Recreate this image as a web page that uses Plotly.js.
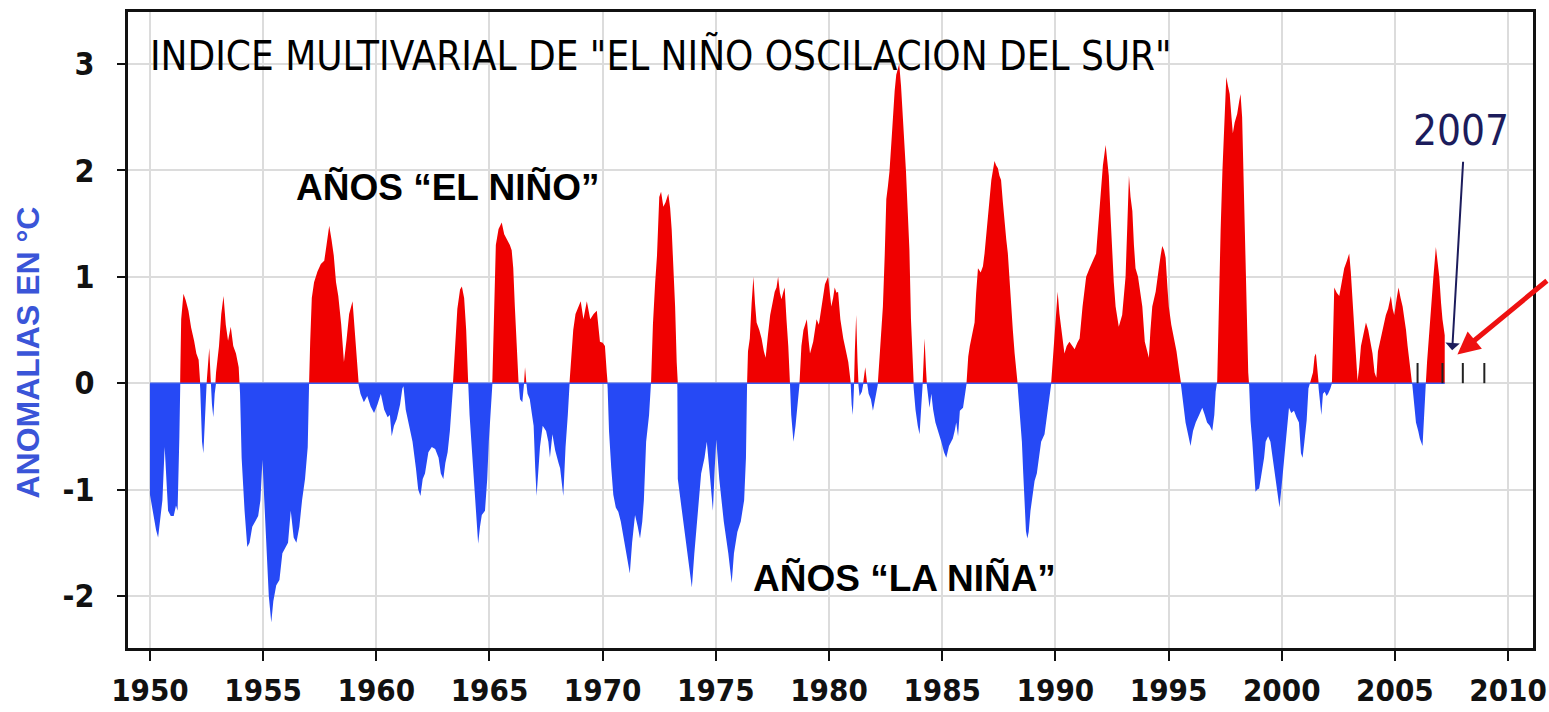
<!DOCTYPE html>
<html>
<head>
<meta charset="utf-8">
<script src="https://cdn.plot.ly/plotly-3.0.1.min.js"></script>
<style>
html,body{margin:0;padding:0;background:#fff;}
#chart{width:1549px;height:712px;}
</style>
</head>
<body>
<div id="chart"></div>
<script>
// Multivariate ENSO Index (decimal year, index value)
const years = [
1950.00,1950.08,1950.17,1950.27,1950.36,1950.45,1950.55,1950.65,1950.72,1950.80,1950.92,1951.05,1951.15,1951.22,1951.30,
1951.34,1951.38,1951.48,1951.58,1951.70,1951.82,1951.95,1952.05,1952.15,1952.22,
1952.30,1952.36,1952.44,1952.52,1952.62,1952.68,1952.74,1952.80,1952.86,1952.92,
1953.05,1953.15,1953.25,1953.35,1953.45,1953.57,1953.68,1953.80,1953.92,1953.98,
1954.05,1954.18,1954.30,1954.40,1954.52,1954.65,1954.78,1954.88,1954.97,1955.05,1955.15,1955.25,1955.36,1955.45,1955.58,1955.72,1955.85,1955.97,1956.10,1956.22,1956.35,1956.47,1956.60,1956.72,1956.85,1956.97,1957.03,
1957.08,1957.15,1957.25,1957.40,1957.55,1957.70,1957.80,1957.92,1958.02,1958.12,1958.22,1958.32,1958.45,1958.57,1958.68,1958.80,1958.95,1959.05,1959.15,1959.22,
1959.30,1959.45,1959.60,1959.75,1959.90,1960.05,1960.20,1960.35,1960.50,1960.60,1960.68,1960.78,1960.90,1961.05,1961.15,1961.20,
1961.30,1961.45,1961.60,1961.75,1961.85,1961.95,1962.05,1962.15,1962.30,1962.45,1962.60,1962.75,1962.85,1962.96,1963.05,1963.15,1963.25,1963.35,1963.40,
1963.48,1963.58,1963.70,1963.78,1963.88,1963.97,1964.05,
1964.12,1964.22,1964.36,1964.50,1964.58,1964.66,1964.80,1964.90,1964.97,1965.08,1965.13,
1965.18,1965.28,1965.40,1965.54,1965.65,1965.76,1965.90,1965.98,1966.05,1966.12,1966.20,1966.28,
1966.35,1966.45,1966.52,1966.57,1966.62,
1966.68,1966.78,1966.88,1966.95,1967.02,1967.08,1967.15,1967.23,1967.35,1967.50,1967.60,1967.67,1967.78,1967.90,1968.05,1968.12,1968.26,1968.36,1968.46,1968.54,
1968.62,1968.70,1968.80,1968.93,1969.03,1969.15,1969.30,1969.45,1969.60,1969.74,1969.88,1970.00,1970.10,1970.18,1970.22,
1970.28,1970.38,1970.47,1970.58,1970.69,1970.80,1970.92,1971.05,1971.20,1971.30,1971.43,1971.55,1971.65,1971.75,1971.82,1971.92,1972.05,1972.14,
1972.22,1972.32,1972.40,1972.50,1972.58,1972.68,1972.78,1972.90,1972.98,1973.05,1973.12,1973.20,1973.27,1973.30,
1973.32,1973.50,1973.70,1973.85,1973.94,1974.05,1974.20,1974.35,1974.50,1974.60,1974.75,1974.87,1974.95,1975.02,1975.15,1975.35,1975.55,1975.70,1975.80,1975.95,1976.10,1976.25,1976.33,1976.38,
1976.42,1976.50,1976.58,1976.66,1976.73,1976.80,1976.92,1977.02,1977.12,1977.20,1977.30,1977.40,1977.50,1977.60,1977.68,1977.75,1977.83,1977.90,1977.97,1978.04,1978.12,1978.20,1978.27,
1978.33,1978.43,1978.52,1978.62,1978.70,
1978.78,1978.87,1978.95,1979.02,1979.10,1979.16,1979.30,1979.45,1979.55,1979.67,1979.75,1979.82,1979.96,1980.05,1980.10,1980.18,1980.25,1980.33,1980.40,1980.50,1980.63,1980.75,1980.85,1980.95,
1981.00,1981.05,1981.10,1981.14,1981.20,1981.26,1981.30,1981.35,1981.45,1981.52,1981.60,1981.67,1981.75,1981.85,1981.94,1982.05,1982.15,
1982.25,1982.38,1982.46,1982.53,1982.60,1982.67,1982.75,1982.82,1982.90,1982.97,1983.04,1983.10,1983.18,1983.26,1983.33,1983.40,1983.48,1983.55,1983.62,1983.70,1983.74,
1983.82,1983.92,1984.00,1984.08,1984.14,1984.18,1984.22,1984.28,1984.32,
1984.38,1984.44,1984.52,1984.60,1984.70,1984.82,1984.96,1985.08,1985.18,1985.30,1985.40,1985.47,1985.55,1985.62,1985.70,1985.78,1985.92,1986.02,1986.08,
1986.15,1986.22,1986.35,1986.43,1986.50,1986.58,1986.70,1986.80,1986.87,1986.95,1987.02,1987.10,1987.17,1987.24,1987.31,1987.38,1987.46,1987.53,1987.60,1987.68,1987.75,1987.83,1987.90,1987.97,1988.05,1988.12,1988.20,1988.28,1988.33,
1988.40,1988.47,1988.52,1988.58,1988.64,1988.70,1988.76,1988.82,1988.90,1988.96,1989.03,1989.08,1989.18,1989.25,1989.37,1989.52,1989.60,1989.67,1989.75,1989.82,
1989.92,1990.00,1990.10,1990.18,1990.26,1990.40,1990.50,1990.62,1990.75,1990.85,1990.97,1991.07,1991.20,1991.36,1991.51,1991.65,1991.80,1991.90,1992.00,1992.10,1992.22,1992.30,1992.36,1992.43,1992.50,1992.58,1992.66,1992.80,1992.95,
1993.10,1993.18,1993.25,1993.32,1993.40,1993.47,1993.54,1993.65,1993.74,1993.84,1993.95,1994.05,1994.13,1994.20,1994.28,1994.43,1994.50,1994.57,1994.65,1994.72,1994.80,1994.87,1994.95,1995.01,1995.12,1995.24,1995.35,1995.46,1995.55,
1995.65,1995.75,1995.88,1995.97,1996.08,1996.20,1996.35,1996.49,1996.60,1996.70,1996.82,1996.93,1997.02,1997.08,1997.15,
1997.20,1997.30,1997.38,1997.44,1997.50,1997.55,1997.62,1997.70,1997.78,1997.84,1997.92,1998.03,1998.12,1998.18,1998.25,1998.33,1998.40,1998.45,1998.52,1998.56,
1998.62,1998.70,1998.78,1998.84,1998.92,1999.00,1999.07,1999.14,1999.22,1999.29,1999.40,1999.50,1999.60,1999.73,1999.82,1999.90,1999.98,2000.10,2000.20,2000.32,2000.42,2000.54,2000.65,2000.76,2000.85,2000.92,2001.00,2001.10,2001.18,
2001.38,2001.45,2001.51,2001.58,2001.63,2001.70,2001.75,2001.82,2001.90,2001.98,2002.05,2002.15,2002.22,
2002.27,2002.32,2002.43,2002.54,2002.65,2002.76,2002.88,2002.98,2003.05,2003.13,2003.20,2003.28,2003.35,
2003.42,2003.50,2003.60,2003.72,2003.82,2003.92,2004.01,2004.10,2004.18,2004.25,2004.38,2004.50,2004.60,2004.70,2004.82,2004.90,2004.97,2005.08,2005.16,2005.25,2005.34,2005.42,2005.49,2005.56,2005.63,2005.72,2005.77,
2005.85,2005.93,2006.03,2006.10,2006.22,2006.30,2006.36,
2006.42,2006.50,2006.59,2006.70,2006.81,2006.90,2006.96,2007.04,2007.10,2007.20
];
const mei = [
-1.05,-1.15,-1.28,-1.38,-1.45,-1.30,-1.10,-0.60,-0.95,-1.20,-1.25,-1.25,-1.15,-1.20,-0.50,
0.10,0.60,0.84,0.78,0.68,0.52,0.40,0.28,0.22,-0.05,
-0.55,-0.66,-0.20,0.05,0.33,0.05,-0.20,-0.32,-0.10,0.10,
0.35,0.65,0.82,0.55,0.40,0.53,0.35,0.28,0.15,-0.10,
-0.70,-1.20,-1.54,-1.50,-1.35,-1.30,-1.25,-1.10,-0.72,-1.10,-1.60,-2.00,-2.25,-2.05,-1.90,-1.85,-1.60,-1.55,-1.50,-1.20,-1.45,-1.50,-1.35,-1.10,-0.90,-0.60,0.00,
0.40,0.80,0.95,1.05,1.12,1.15,1.30,1.48,1.35,1.20,0.95,0.82,0.55,0.20,0.40,0.65,0.77,0.45,0.15,-0.02,
-0.10,-0.18,-0.12,-0.22,-0.28,-0.20,-0.10,-0.25,-0.32,-0.30,-0.50,-0.40,-0.34,-0.20,-0.05,-0.03,
-0.25,-0.40,-0.55,-0.80,-1.00,-1.06,-0.90,-0.85,-0.65,-0.60,-0.62,-0.70,-0.85,-0.90,-0.75,-0.65,-0.45,-0.15,0.05,
0.35,0.70,0.88,0.91,0.80,0.50,0.05,
-0.30,-0.60,-1.10,-1.51,-1.35,-1.24,-1.20,-0.90,-0.55,-0.20,0.05,
0.55,1.30,1.45,1.51,1.40,1.36,1.30,1.25,1.08,0.72,0.28,0.02,
-0.15,-0.18,-0.02,0.15,0.02,
-0.10,-0.15,-0.30,-0.40,-0.80,-1.06,-0.85,-0.60,-0.40,-0.45,-0.55,-0.70,-0.48,-0.63,-0.75,-0.80,-1.06,-0.60,-0.30,0.02,
0.30,0.50,0.65,0.72,0.77,0.60,0.77,0.60,0.65,0.68,0.39,0.38,0.35,0.10,-0.05,
-0.45,-0.80,-1.05,-1.17,-1.21,-1.30,-1.45,-1.60,-1.79,-1.50,-1.24,-1.35,-1.46,-1.30,-1.10,-0.55,-0.30,0.02,
0.55,0.95,1.20,1.75,1.80,1.66,1.70,1.78,1.65,1.44,1.10,0.72,0.20,-0.05,
-0.90,-1.20,-1.55,-1.80,-1.92,-1.60,-1.20,-0.85,-0.70,-0.55,-0.90,-1.20,-0.80,-0.53,-0.90,-1.30,-1.60,-1.88,-1.60,-1.40,-1.30,-1.10,-0.70,0.00,
0.30,0.42,0.75,1.00,0.75,0.57,0.50,0.42,0.30,0.24,0.45,0.64,0.75,0.86,0.90,1.00,0.85,0.79,0.85,0.90,0.60,0.35,0.02,
-0.30,-0.55,-0.40,-0.15,0.02,
0.35,0.50,0.55,0.60,0.40,0.28,0.39,0.60,0.55,0.72,0.80,0.93,1.00,0.85,0.72,0.80,0.90,0.85,0.86,0.60,0.42,0.30,0.20,0.02,
-0.20,-0.30,-0.05,0.30,0.64,0.20,-0.02,-0.12,-0.08,0.02,0.15,0.02,-0.10,-0.15,-0.26,-0.15,-0.02,
0.30,0.72,1.20,1.73,1.85,1.99,2.25,2.53,2.75,2.90,2.97,3.00,2.80,2.53,2.25,1.99,1.60,1.26,0.60,0.10,-0.05,
-0.25,-0.40,-0.48,-0.20,0.02,0.30,0.42,0.15,-0.02,
-0.15,-0.23,-0.10,-0.25,-0.37,-0.45,-0.55,-0.65,-0.70,-0.59,-0.55,-0.52,-0.45,-0.37,-0.50,-0.26,-0.23,-0.10,0.02,
0.25,0.35,0.50,0.57,0.85,1.08,1.04,1.10,1.22,1.40,1.62,1.80,1.91,2.00,2.09,2.05,2.02,1.95,1.91,1.70,1.51,1.35,1.22,0.95,0.72,0.50,0.28,0.10,-0.02,
-0.19,-0.40,-0.55,-0.85,-1.10,-1.39,-1.46,-1.40,-1.20,-1.10,-1.00,-0.92,-0.85,-0.74,-0.55,-0.48,-0.35,-0.19,-0.08,0.02,
0.30,0.60,0.86,0.65,0.50,0.28,0.35,0.39,0.35,0.32,0.38,0.42,0.72,1.00,1.08,1.15,1.22,1.50,1.80,2.05,2.24,2.10,1.95,1.60,1.26,0.95,0.72,0.53,0.64,
1.00,1.50,1.95,1.75,1.62,1.30,1.08,1.00,0.85,0.72,0.39,0.30,0.24,0.50,0.72,0.86,0.95,1.08,1.20,1.29,1.25,1.18,0.90,0.72,0.55,0.42,0.30,0.13,-0.02,
-0.20,-0.37,-0.50,-0.59,-0.45,-0.37,-0.30,-0.23,-0.30,-0.37,-0.40,-0.45,-0.30,-0.08,0.02,
0.60,1.44,2.00,2.35,2.70,2.88,2.80,2.72,2.50,2.35,2.45,2.53,2.65,2.72,2.50,1.80,1.00,0.50,0.10,-0.02,
-0.35,-0.55,-0.85,-1.02,-1.00,-0.99,-0.90,-0.81,-0.70,-0.55,-0.50,-0.55,-0.70,-0.92,-1.05,-1.17,-1.00,-0.74,-0.50,-0.23,-0.28,-0.26,-0.32,-0.37,-0.66,-0.70,-0.55,-0.35,-0.05,
0.10,0.25,0.28,0.10,-0.05,-0.25,-0.30,-0.10,-0.08,-0.12,-0.10,-0.05,0.02,
0.60,0.90,0.85,0.82,0.95,1.08,1.15,1.22,1.05,0.79,0.55,0.28,0.02,
0.15,0.35,0.45,0.57,0.50,0.40,0.28,0.10,0.05,0.30,0.42,0.55,0.64,0.70,0.82,0.70,0.64,0.80,0.90,0.80,0.72,0.60,0.50,0.35,0.20,0.05,-0.02,
-0.20,-0.37,-0.45,-0.52,-0.59,-0.30,-0.02,
0.20,0.45,0.72,1.00,1.28,1.10,1.00,0.75,0.60,0.45
];
// small black marks drawn above the zero line after the last value
const markYears = [2006.0, 2007.1, 2008.0, 2008.95];
const markHeight = 0.19;
const xTickYears = [1950,1955,1960,1965,1970,1975,1980,1985,1990,1995,2000,2005,2010];
const yTickVals = [-2,-1,0,1,2,3];
const yTickText = ['-2','-1','0','1','2','3'];

// split the series into warm (positive) and cold (negative) parts with zero crossings
const rx=[], ry=[], bx=[], by=[];
for (let i=0;i<years.length;i++){
  if (i>0){
    const y0=mei[i-1], y1=mei[i];
    if ((y0>0 && y1<0) || (y0<0 && y1>0)){
      const xc = years[i-1] + (years[i]-years[i-1]) * (-y0)/(y1-y0);
      rx.push(xc); ry.push(0); bx.push(xc); by.push(0);
    }
  }
  rx.push(years[i]); ry.push(Math.max(mei[i],0));
  bx.push(years[i]); by.push(Math.min(mei[i],0));
}
const mx=[], my=[];
markYears.forEach(y=>{ mx.push(y,y,null); my.push(0,markHeight,null); });

const narrow = '"DejaVu Sans Condensed", "Liberation Sans Narrow", "Arial Narrow", Arial, sans-serif';

const traces = [
  {x:rx, y:ry, type:'scatter', mode:'lines', fill:'tozeroy', fillcolor:'#f00000',
   line:{width:0, color:'#f00000'}, hoverinfo:'skip', showlegend:false},
  {x:bx, y:by, type:'scatter', mode:'lines', fill:'tozeroy', fillcolor:'#2649f5',
   line:{width:0, color:'#2649f5'}, hoverinfo:'skip', showlegend:false},
  {x:[years[0], years[years.length-1]], y:[0,0], type:'scatter', mode:'lines',
   line:{width:1.5, color:'#3a5cf0'}, hoverinfo:'skip', showlegend:false},
  {x:mx, y:my, type:'scatter', mode:'lines', line:{width:2, color:'#222'},
   hoverinfo:'skip', showlegend:false}
];

const layout = {
  width:1549, height:712,
  margin:{l:128, r:16, t:12, b:64, pad:0},
  paper_bgcolor:'#ffffff', plot_bgcolor:'#ffffff',
  showlegend:false,
  xaxis:{
    range:[1949.03, 2011.1], tickmode:'array', tickvals:xTickYears,
    ticks:'outside', ticklen:10, tickwidth:2, tickcolor:'#111',
    showline:true, linewidth:3, linecolor:'#111', mirror:true,
    showgrid:true, gridcolor:'#dcdcdc', gridwidth:2, zeroline:false,
    tickfont:{family:narrow, size:31, color:'#111', weight:'bold'},
    ticklabelstandoff:3
  },
  yaxis:{
    range:[-2.49, 3.49], tickmode:'array', tickvals:yTickVals, ticktext:yTickText,
    ticks:'outside', ticklen:8, tickwidth:2, tickcolor:'#111',
    showline:true, linewidth:3, linecolor:'#111', mirror:true,
    showgrid:true, gridcolor:'#dcdcdc', gridwidth:2, zeroline:false,
    tickfont:{family:narrow, size:32, color:'#111', weight:'bold'},
    ticklabelstandoff:16
  },
  annotations:[
    {xref:'paper', yref:'paper', x:0.0142, y:0.931, xanchor:'left', yanchor:'middle',
     text:'INDICE MULTIVARIAL DE "EL NIÑO OSCILACION DEL SUR"', showarrow:false,
     font:{family:narrow, size:40, color:'#000'}},
    {xref:'x', yref:'y', x:1963.17, y:1.84, text:'AÑOS “EL NIÑO”', showarrow:false,
     font:{family:'"Liberation Sans", Arial, sans-serif', size:37, color:'#000', weight:'bold'}},
    {xref:'x', yref:'y', x:1983.32, y:-1.83, text:'AÑOS “LA NIÑA”', showarrow:false,
     font:{family:'"Liberation Sans", Arial, sans-serif', size:37, color:'#000', weight:'bold'}},
    {xref:'paper', yref:'paper', x:-0.071, y:0.465, xanchor:'center', yanchor:'middle',
     text:'ANOMALIAS EN °C', textangle:-90, showarrow:false,
     font:{family:'"Liberation Sans", Arial, sans-serif', size:32, color:'#3a55d8', weight:'bold'}},
    {xref:'x', yref:'y', x:2007.93, y:2.38, text:'2007', showarrow:false,
     font:{family:narrow, size:42, color:'#1c1c5c'}},
    {xref:'x', yref:'y', x:2007.53, y:0.31, ax:11, ay:-190, text:'', showarrow:true,
     arrowhead:1, arrowsize:1.2, arrowwidth:2, arrowcolor:'#1c1c5c'},
    {xref:'x', yref:'y', x:2007.76, y:0.27, ax:91, ay:-75, text:'', showarrow:true,
     arrowhead:2, arrowsize:0.9, arrowwidth:5, arrowcolor:'#ee1111'}
  ]
};

Plotly.newPlot('chart', traces, layout, {staticPlot:true, displayModeBar:false});
</script>
</body>
</html>
